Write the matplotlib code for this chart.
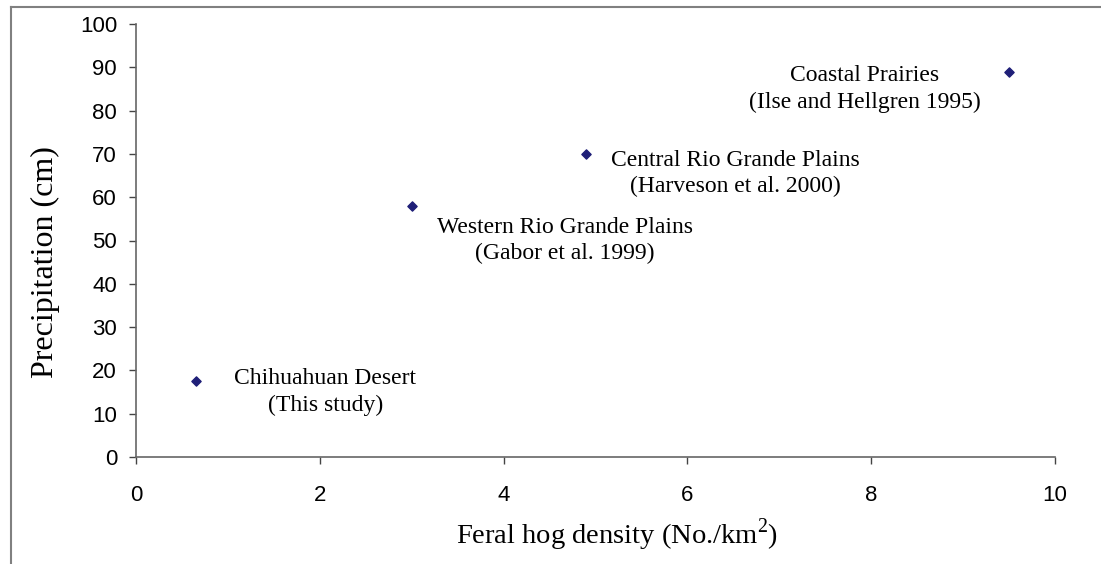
import matplotlib.pyplot as plt
from matplotlib.lines import Line2D

plt.rcParams["mathtext.fontset"] = "custom"
plt.rcParams["mathtext.rm"] = "Liberation Serif"

# feral hog density vs precipitation for the four study areas
density = [0.65, 3.0, 4.9, 9.5]
precip = [17.5, 58, 70, 89]
names = ["Chihuahuan Desert\n(This study)",
         "Western Rio Grande Plains\n(Gabor et al. 1999)",
         "Central Rio Grande Plains\n(Harveson et al. 2000)",
         "Coastal Prairies\n(Ilse and Hellgren 1995)"]
# label centre positions (data coords)
label_x = [2.06, 4.67, 6.52, 7.93]
label_y = [15.0, 50.0, 65.5, 85.0]

W, H = 1101, 564
fig = plt.figure(figsize=(W / 100, H / 100), dpi=100)
ax = fig.add_axes([136 / W, 1 - 457 / H, (1055 - 136) / W, (457 - 24) / H])

# outer chart border (clipped on right and bottom)
fig.add_artist(Line2D([11 / W, 11 / W], [0, 1 - 7 / H], color="#808080", lw=1.5, transform=fig.transFigure))
fig.add_artist(Line2D([11 / W, 1], [1 - 7 / H, 1 - 7 / H], color="#808080", lw=1.5, transform=fig.transFigure))

ax.scatter(density, precip, marker="D", s=22, color="#1f1f78", zorder=3, clip_on=False)

for x, y, t in zip(label_x, label_y, names):
    ax.text(x, y, t, ha="center", va="center", family="Liberation Serif",
            fontsize=17, linespacing=1.32)

ax.set_xlim(0, 10)
ax.set_ylim(0, 100)
ax.set_xticks(range(0, 11, 2))
ax.set_yticks(range(0, 101, 10))
for s in ["top", "right"]:
    ax.spines[s].set_visible(False)
for s in ["left", "bottom"]:
    ax.spines[s].set_color("#666666")
    ax.spines[s].set_linewidth(1.2)
ax.tick_params(direction="out", length=5, width=1, color="#444444",
               labelsize=16, pad=8.6)
for lab in ax.get_xticklabels() + ax.get_yticklabels():
    lab.set_family("Liberation Sans")
ax.tick_params(axis="x", pad=15)

fig.text(617 / W, 1 - 544 / H, "Feral hog density (No./km$^{\\mathrm{2}}$)",
         family="Liberation Serif", fontsize=20.5, ha="center", va="baseline")
fig.text(45 / W, 1 - 262 / H, "Precipitation (cm)", rotation=90,
         family="Liberation Serif", fontsize=23, ha="center", va="center")

fig.savefig("out.png", dpi=100)
